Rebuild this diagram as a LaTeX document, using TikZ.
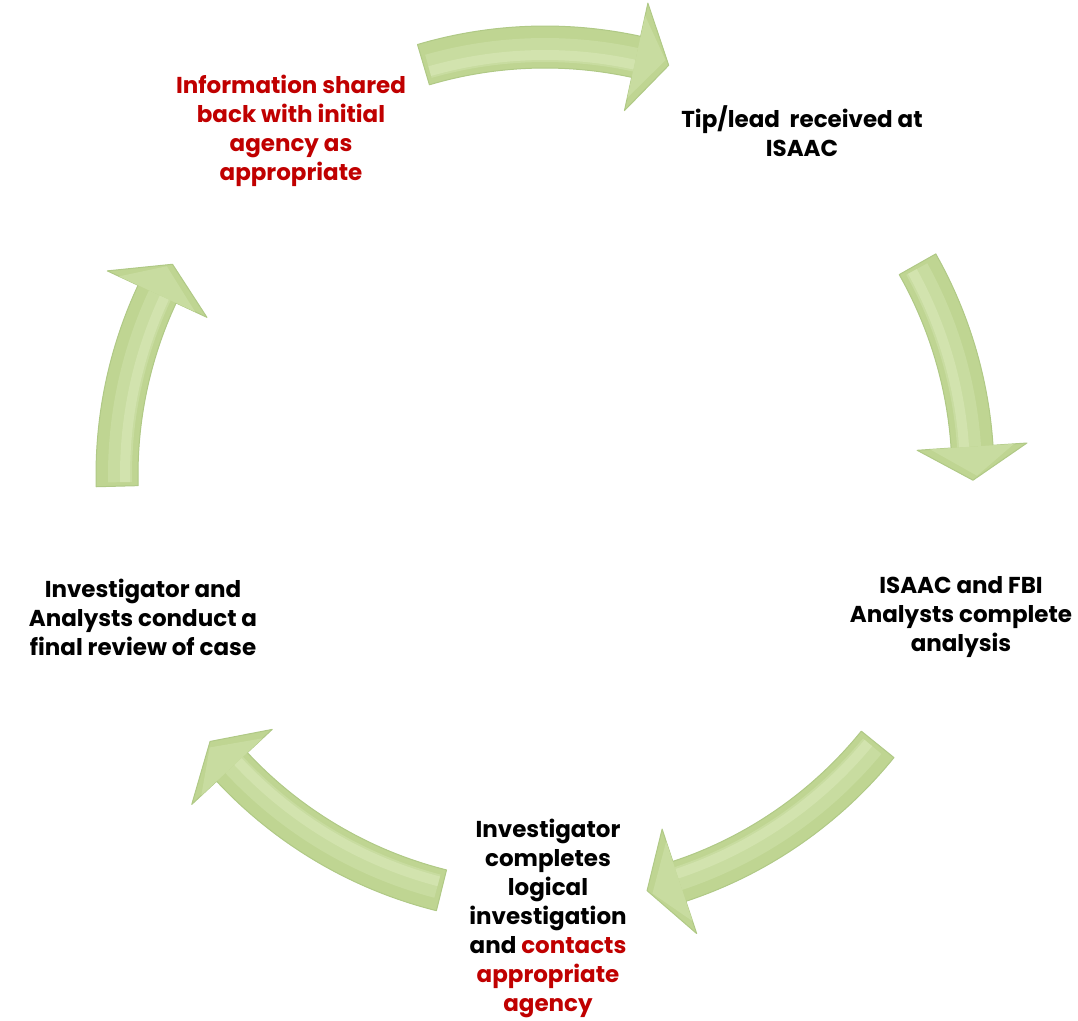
\documentclass[tikz,border=0pt]{standalone}
\usepackage{fontspec}
\setmainfont{Poppins}
\usetikzlibrary{calc}
\definecolor{arrowgreen}{HTML}{BFD592}
\definecolor{arrowmid}{HTML}{C8DCA0}
\definecolor{arrowlight}{HTML}{D2E3AE}
\definecolor{arrowedge}{HTML}{B0C986}
\definecolor{tipred}{HTML}{C00000}
\begin{document}
\begin{tikzpicture}[
  lbl/.style={font=\bfseries\fontsize{23}{29}\selectfont, align=center, text=black, inner sep=0pt},
  arrowbody/.style={fill=arrowgreen, draw=arrowedge, line width=1pt, line join=round},
  arrowshine/.style={draw=arrowmid, line width=24pt},
  arrowshinein/.style={draw=arrowlight, line width=10pt}
]
\useasboundingbox (0,0) rectangle (1078pt,-1020pt);
\coordinate (C) at (545pt,-475pt);
\foreach \a/\b in {106.5/73.2, 29.5/-0.7, -39/-76.2, -104/-141.5, 181.5/150.5} {
  \pgfmathsetmacro\h{\b+4.5}
  \pgfmathsetmacro\s{\a+(\h-\a)*0.02}
  \path[arrowbody]
   ($(C)+(\a:449pt)$) arc[start angle=\a, end angle=\h, radius=449pt]
   -- ($(C)+(\h:483pt)$) -- ($(C)+(\b:428pt)$) -- ($(C)+(\h:373pt)$) -- ($(C)+(\h:407pt)$)
   arc[start angle=\h, end angle=\a, radius=407pt] -- cycle;
  \path[arrowshine] ($(C)+(\s:425pt)$) arc[start angle=\s, end angle=\h, radius=425pt];
  \path[arrowshinein] ($(C)+(\s:420pt)$) arc[start angle=\s, end angle=\h, radius=420pt];
  \path[fill=arrowmid] ($(C)+(\h:470pt)$) -- ($(C)+(\b+0.6:432pt)$) -- ($(C)+(\h:386pt)$) -- cycle;
}
\node[lbl, text=tipred] (share) at (291pt,-131pt) {Information shared\\back with initial\\agency as\\appropriate};
\node[lbl] (tip) at (802pt,-131pt) {Tip/lead\ \ received at\\ISAAC};
\node[lbl] (anal) at (961pt,-617pt) {ISAAC and FBI\\Analysts complete\\analysis};
\node[lbl] (inv) at (548pt,-918pt) {Investigator\\completes\\logical\\investigation\\and \textcolor{tipred}{contacts}\\\textcolor{tipred}{appropriate}\\\textcolor{tipred}{agency}};
\node[lbl] (rev) at (143pt,-617pt) {Investigator and\\Analysts conduct a\\final review of case};
\end{tikzpicture}
\end{document}
